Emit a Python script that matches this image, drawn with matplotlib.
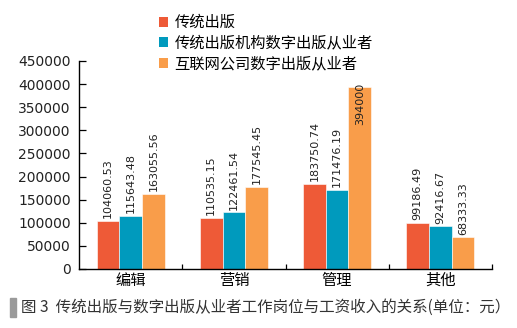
import numpy as np
import matplotlib.pyplot as plt
from matplotlib.patches import Rectangle, Patch

plt.rcParams["font.family"] = ["DejaVu Sans", "Noto Sans CJK SC"]

categories = ["编辑", "营销", "管理", "其他"]
series_names = ["传统出版", "传统出版机构数字出版从业者", "互联网公司数字出版从业者"]
traditional = [104060.53, 110535.15, 183750.74, 99186.49]
trad_digital = [115643.48, 122461.54, 171476.19, 92416.67]
internet_digital = [163055.56, 177545.45, 394000, 68333.33]
colors = ["#EE5A37", "#009ABD", "#F99D4A"]

W, H = 517, 328
fig = plt.figure(figsize=(W / 100, H / 100), dpi=100)
ax = fig.add_axes([79 / W, (H - 269) / H, (492 - 79) / W, (269 - 61) / H])

x = np.arange(len(categories))
width = 0.22
ymax = 450000
for i, (vals, c) in enumerate(zip([traditional, trad_digital, internet_digital], colors)):
    pos = x + (i - 1) * width
    ax.bar(pos, vals, width, color=c, edgecolor="white", linewidth=0.4)
    for px, v in zip(pos, vals):
        label = f"{v:g}" if float(v).is_integer() else f"{v:.2f}"
        if v > ymax * 0.8:
            ax.text(px, v + 9000, label, rotation=90, ha="center", va="top",
                    fontsize=8, color="#222222")
        else:
            ax.text(px, v + 6000, label, rotation=90, ha="center", va="bottom",
                    fontsize=8, color="#222222")

ax.set_xlim(-0.5, len(categories) - 0.5)
ax.set_ylim(0, ymax)
ax.set_yticks(np.arange(0, 450001, 50000))
ax.set_xticks(x)
ax.set_xticklabels(categories, fontsize=11)
ax.set_xticks(np.arange(0.5, len(categories), 1), minor=True)
ax.tick_params(axis="x", which="major", length=0, pad=3)
ax.tick_params(axis="x", which="minor", direction="in", length=3.5, width=0.9)
ax.tick_params(axis="y", direction="in", length=5, width=0.9, labelsize=10, pad=6,
               labelcolor="#222222")
for s in ["top", "right"]:
    ax.spines[s].set_visible(False)
for s in ["left", "bottom"]:
    ax.spines[s].set_linewidth(1.0)

handles = [Patch(facecolor=c, edgecolor="none") for c in colors]
fig.legend(handles, series_names, loc="upper left", bbox_to_anchor=(153 / W, 1 - 9 / H),
           frameon=False, fontsize=11, handlelength=0.6, handleheight=0.6,
           handletextpad=0.4, labelspacing=0.36, borderaxespad=0)

fig.add_artist(Rectangle((10 / W, (H - 317) / H), 6 / W, 19 / H,
                         transform=fig.transFigure, color="#9a9a9a"))
fig.text(21 / W, (H - 307) / H, "图 3  传统出版与数字出版从业者工作岗位与工资收入的关系(单位：元）",
         fontsize=11.2, va="center", ha="left", color="#333333",
         family=["Noto Sans CJK SC", "DejaVu Sans"])

fig.savefig("out.png", dpi=100)
